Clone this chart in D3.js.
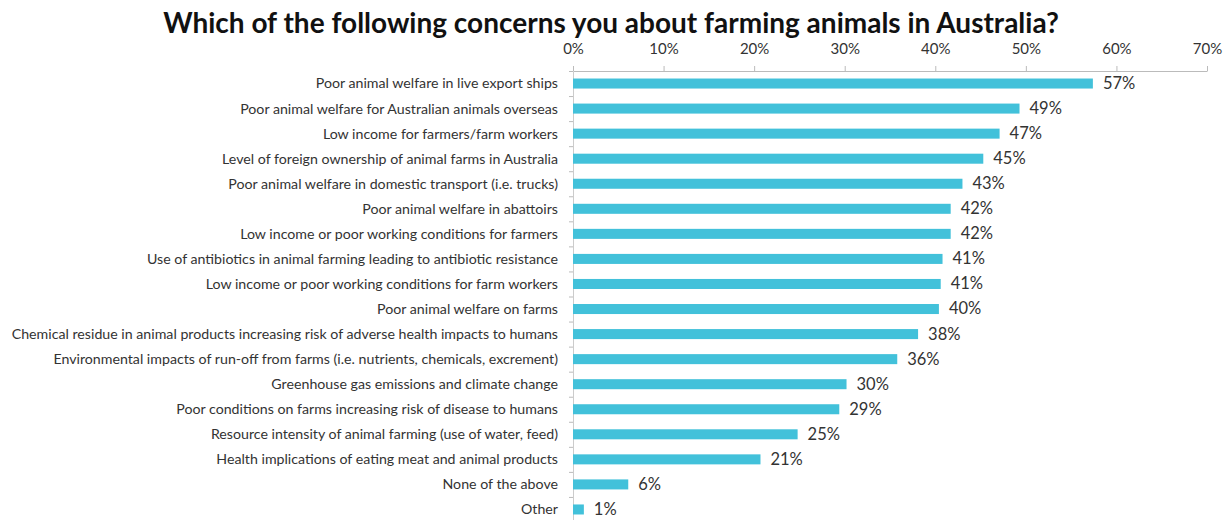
<!DOCTYPE html>
<html>
<head>
<meta charset="utf-8">
<script src="https://d3js.org/d3.v7.min.js"></script>
<style>
  body { margin: 0; background: #fff; }
  text { font-family: Lato, 'Open Sans', sans-serif; }
</style>
</head>
<body>
<script>
const categories = [
  'Poor animal welfare in live export ships',
  'Poor animal welfare for Australian animals overseas',
  'Low income for farmers/farm workers',
  'Level of foreign ownership of animal farms in Australia',
  'Poor animal welfare in domestic transport (i.e. trucks)',
  'Poor animal welfare in abattoirs',
  'Low income or poor working conditions for farmers',
  'Use of antibiotics in animal farming leading to antibiotic resistance',
  'Low income or poor working conditions for farm workers',
  'Poor animal welfare on farms',
  'Chemical residue in animal products increasing risk of adverse health impacts to humans',
  'Environmental impacts of run-off from farms (i.e. nutrients, chemicals, excrement)',
  'Greenhouse gas emissions and climate change',
  'Poor conditions on farms increasing risk of disease to humans',
  'Resource intensity of animal farming (use of water, feed)',
  'Health implications of eating meat and animal products',
  'None of the above',
  'Other'
];
// bar lengths as measured, shown rounded in labels
const shares = [0.574, 0.493, 0.471, 0.453, 0.430, 0.417, 0.417, 0.408, 0.406, 0.404,
                0.381, 0.358, 0.302, 0.294, 0.248, 0.207, 0.061, 0.012];
const valueLabels = ['57%', '49%', '47%', '45%', '43%', '42%', '42%', '41%', '41%', '40%',
                     '38%', '36%', '30%', '29%', '25%', '21%', '6%', '1%'];
const xTicks = [0, 0.1, 0.2, 0.3, 0.4, 0.5, 0.6, 0.7];

const width = 1231, height = 520;
const plot = { left: 573, right: 1207, top: 71, bottom: 522 };
const barColor = '#42c1da';

const svg = d3.select('body')
  .append('svg')
  .attr('width', width)
  .attr('height', height);

const x = d3.scaleLinear()
  .domain([0, 0.7])
  .range([plot.left, plot.right]);

const y = d3.scaleBand()
  .domain(categories)
  .range([plot.top, plot.bottom]);

// title
svg.append('text')
  .attr('x', 611)
  .attr('y', 33)
  .attr('text-anchor', 'middle')
  .attr('font-size', 28)
  .attr('font-weight', 'bold')
  .attr('fill', '#111')
  .text('Which of the following concerns you about farming animals in Australia?');

// top axis
const xAxis = svg.append('g')
  .attr('transform', `translate(0, ${plot.top})`)
  .call(d3.axisTop(x).tickValues(xTicks).tickFormat(d3.format('.0%')).tickSize(5).tickSizeOuter(0).tickPadding(12));
xAxis.select('.domain').attr('stroke', '#bbb');
xAxis.selectAll('.tick line').attr('stroke', '#bbb');
xAxis.selectAll('.tick text')
  .attr('font-size', 15)
  .attr('fill', '#333');

// left axis with ticks between categories
const yBounds = d3.scaleLinear()
  .domain([0, categories.length])
  .range([plot.top, plot.bottom]);
const yAxis = svg.append('g')
  .attr('transform', `translate(${plot.left}, 0)`)
  .call(d3.axisLeft(yBounds).tickValues(d3.range(0, categories.length + 1)).tickFormat('').tickSize(4).tickSizeOuter(0));
yAxis.select('.domain').attr('stroke', '#ccc');
yAxis.selectAll('.tick line').attr('stroke', '#bbb');

const barH = y.bandwidth() * 0.4;

svg.append('g')
  .selectAll('rect')
  .data(shares)
  .enter()
  .append('rect')
  .attr('x', x(0))
  .attr('y', (d, i) => y(categories[i]) + (y.bandwidth() - barH) / 2)
  .attr('width', d => x(d) - x(0))
  .attr('height', barH)
  .attr('fill', barColor);

svg.append('g')
  .selectAll('text')
  .data(categories)
  .enter()
  .append('text')
  .attr('x', plot.left - 15)
  .attr('y', d => y(d) + y.bandwidth() / 2)
  .attr('dy', '0.35em')
  .attr('text-anchor', 'end')
  .attr('font-size', 14.2)
  .attr('fill', '#333')
  .text(d => d);

svg.append('g')
  .selectAll('text')
  .data(shares)
  .enter()
  .append('text')
  .attr('x', d => x(d) + 10)
  .attr('y', (d, i) => y(categories[i]) + y.bandwidth() / 2)
  .attr('dy', '0.33em')
  .attr('font-size', 16.5)
  .attr('fill', '#333')
  .text((d, i) => valueLabels[i]);
</script>
</body>
</html>
